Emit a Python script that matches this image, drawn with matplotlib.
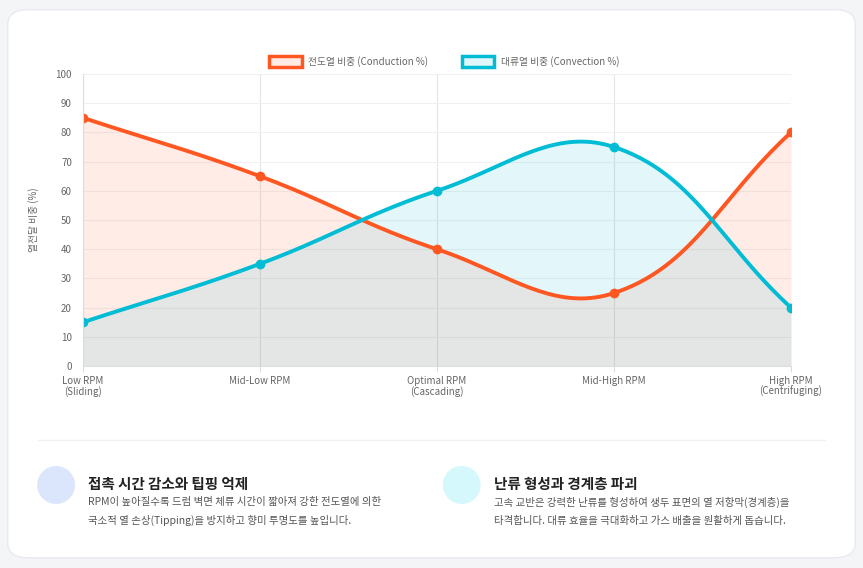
import numpy as np
import matplotlib
matplotlib.use('Agg')
import matplotlib.pyplot as plt
from matplotlib.patches import FancyBboxPatch, Circle, Rectangle

plt.rcParams['font.family'] = ['Noto Sans CJK KR', 'DejaVu Sans']

categories = ['Low RPM\n(Sliding)', 'Mid-Low RPM', 'Optimal RPM\n(Cascading)', 'Mid-High RPM', 'High RPM\n(Centrifuging)']
conduction = [85, 65, 40, 25, 80]
convection = [15, 35, 60, 75, 20]
y_ticks = list(range(0, 101, 10))

ORANGE = '#ff5722'
CYAN = '#00bcd4'


def spline(xs, ys, tension=0.4, sx=177.0, sy=2.92, n=40):
    # chart.js style bezier, distances measured in pixel space
    px = np.array(xs, float) * sx
    py = np.array(ys, float) * sy
    m = len(px)
    cps = []
    for i in range(m):
        p0 = i - 1 if i > 0 else i
        p2 = i + 1 if i < m - 1 else i
        d01 = np.hypot(px[i] - px[p0], py[i] - py[p0])
        d12 = np.hypot(px[p2] - px[i], py[p2] - py[i])
        tot = d01 + d12
        s01 = d01 / tot if tot else 0
        s12 = d12 / tot if tot else 0
        fa, fb = tension * s01, tension * s12
        dx, dy = px[p2] - px[p0], py[p2] - py[p0]
        cps.append(((px[i] - fa * dx, py[i] - fa * dy), (px[i] + fb * dx, py[i] + fb * dy)))
    outx, outy = [], []
    t = np.linspace(0, 1, n)
    for i in range(m - 1):
        P0 = (px[i], py[i]); P1 = cps[i][1]; P2 = cps[i + 1][0]; P3 = (px[i + 1], py[i + 1])
        bx = (1-t)**3*P0[0] + 3*(1-t)**2*t*P1[0] + 3*(1-t)*t**2*P2[0] + t**3*P3[0]
        by = (1-t)**3*P0[1] + 3*(1-t)**2*t*P1[1] + 3*(1-t)*t**2*P2[1] + t**3*P3[1]
        outx.extend(bx); outy.extend(by)
    return np.array(outx) / sx, np.array(outy) / sy


fig = plt.figure(figsize=(8.63, 5.68), dpi=100)
fig.patch.set_facecolor('#f4f5f7')
card = FancyBboxPatch((0.009, 0.018), 0.982, 0.965, boxstyle='round,pad=0,rounding_size=0.025',
                      transform=fig.transFigure, facecolor='white', edgecolor='#e8eaee', lw=1, zorder=-10)
fig.patches.append(card)

ax = fig.add_axes([0.0962, 0.3556, 0.8204, 0.5141])
ax.set_zorder(5)
ax.patch.set_alpha(0)
x = np.arange(len(categories))
for vals, col in [(conduction, ORANGE), (convection, CYAN)]:
    sx_, sy_ = spline(x, vals)
    ax.fill_between(sx_, 0, sy_, color=col, alpha=0.11, lw=0)
    ax.plot(sx_, sy_, color=col, lw=2.8, solid_capstyle='round')
    ax.plot(x, vals, 'o', color=col, ms=6)

ax.set_xlim(0, len(categories) - 1)
ax.set_ylim(0, 100)
ax.set_yticks(y_ticks)
ax.set_xticks(x)
ax.set_xticklabels(categories, fontsize=7, color='#666666', linespacing=1.0)
ax.tick_params(axis='y', labelsize=7, labelcolor='#666666', length=0, pad=8)
ax.tick_params(axis='x', length=4, color='#dddddd', pad=3)
ax.grid(axis='y', color='#f0f0f0', lw=0.8)
ax.grid(axis='x', color='#e4e4e4', lw=0.8)
ax.set_axisbelow(True)
for s in ['top', 'right']:
    ax.spines[s].set_visible(False)
ax.spines['left'].set_color('#dddddd')
ax.spines['bottom'].set_color('#dddddd')
ax.set_ylabel('열전달 비중 (%)', fontsize=7, color='#666666', labelpad=12)

# legend
for lx, col, lab in [(0.312, ORANGE, '전도열 비중 (Conduction %)'), (0.535, CYAN, '대류열 비중 (Convection %)')]:
    fig.patches.append(Rectangle((lx, 0.882), 0.038, 0.019, transform=fig.transFigure,
                                 facecolor=col, alpha=0.12, edgecolor='none'))
    fig.patches.append(Rectangle((lx, 0.882), 0.038, 0.019, transform=fig.transFigure,
                                 facecolor='none', edgecolor=col, lw=2.5))
    fig.text(lx + 0.045, 0.891, lab, fontsize=7, color='#666666', va='center')

# divider
fig.add_artist(plt.Line2D([0.044, 0.956], [0.225, 0.225], color='#eef0f3', lw=1, transform=fig.transFigure))

# bottom cards
blocks = [
    (0.065, '#dbe6fd', '접촉 시간 감소와 팁핑 억제',
     'RPM이 높아질수록 드럼 벽면 체류 시간이 짧아져 강한 전도열에 의한\n국소적 열 손상(Tipping)을 방지하고 향미 투명도를 높입니다.'),
    (0.535, '#d5f8fc', '난류 형성과 경계층 파괴',
     '고속 교반은 강력한 난류를 형성하여 생두 표면의 열 저항막(경계층)을\n타격합니다. 대류 효율을 극대화하고 가스 배출을 원활하게 돕습니다.'),
]
for bx, ccol, title, body in blocks:
    ix, iy = bx * 863, 568 - 485
    circ = Circle((ix, iy), 19, transform=None, facecolor=ccol, edgecolor='none')
    fig.patches.append(circ)
    fig.text(bx + 0.037, 0.148, title, fontsize=10.5, fontweight='bold', color='#222222', va='center')
    fig.text(bx + 0.037, 0.125, body, fontsize=7.5, color='#555555', va='top', linespacing=1.9)

fig.savefig('out.png', dpi=100, facecolor=fig.get_facecolor())
